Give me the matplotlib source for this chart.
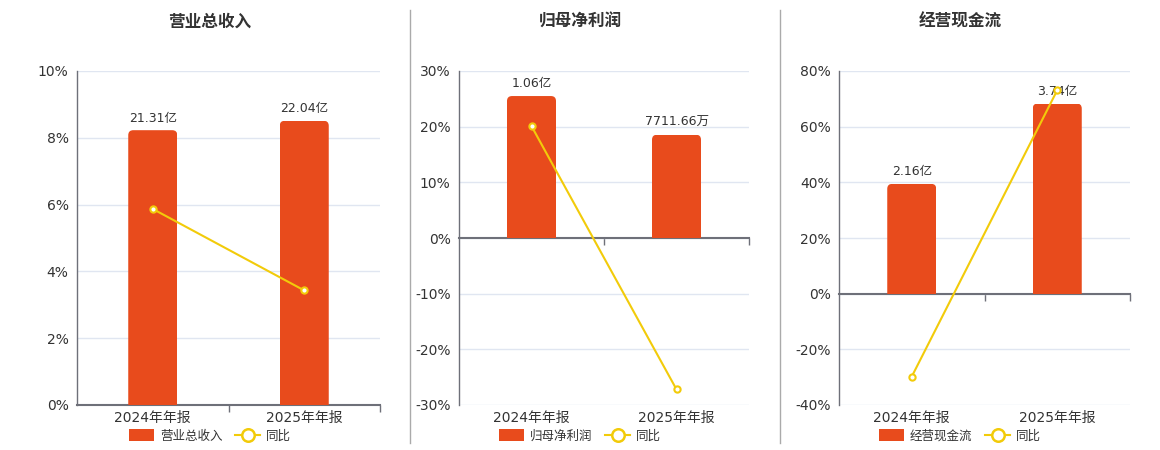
import matplotlib
matplotlib.use("Agg")
import matplotlib.pyplot as plt
from matplotlib.patches import FancyBboxPatch, Rectangle, Patch
from matplotlib.lines import Line2D
from matplotlib.ticker import FuncFormatter, FixedLocator

plt.rcParams['font.family'] = ['DejaVu Sans', 'Noto Sans CJK SC']

# ---- data ----
categories = ['2024年年报', '2025年年报']
titles = ['营业总收入', '归母净利润', '经营现金流']
bar_values = [[21.31, 22.04], [1.06, 0.771166], [2.16, 3.74]]
bar_labels = [['21.31亿', '22.04亿'], ['1.06亿', '7711.66万'], ['2.16亿', '3.74亿']]
yoy_values = [[5.87, 3.43], [20.1, -27.2], [-29.8, 73.1]]
pct_ticks = [[0, 2, 4, 6, 8, 10], [-30, -20, -10, 0, 10, 20, 30], [-40, -20, 0, 20, 40, 60, 80]]
bar_ylims = [(0, 25.9), (-1.247, 1.247), (-2.19, 4.38)]

BAR_C = '#E84B1C'
LINE_C = '#F2CB0A'
AXIS_C = '#6E7079'
GRID_C = '#E0E6F1'
TXT_C = '#333333'

W, H = 1160, 450
fig = plt.figure(figsize=(W / 100, H / 100), dpi=100)

# layout in pixels: (left, right)
panels_px = [(77, 380), (459, 749), (839, 1130)]
top_px, bot_px = 71, 405
title_x_px = [210, 580, 960]

for i in range(3):
    l, r = panels_px[i]
    rect = [l / W, 1 - bot_px / H, (r - l) / W, (bot_px - top_px) / H]
    ax = fig.add_axes(rect)
    axb = ax.twinx()
    axl = ax.twinx()
    x = list(range(len(categories)))
    ticks = pct_ticks[i]

    # percent axis (grid, spines, labels)
    ax.set_xlim(-0.5, 1.5)
    ax.set_ylim(ticks[0], ticks[-1])
    ax.yaxis.set_major_locator(FixedLocator(ticks))
    ax.yaxis.set_major_formatter(FuncFormatter(lambda v, p: f"{v:.0f}%"))
    ax.tick_params(axis='y', length=0, pad=6, labelsize=10, labelcolor=TXT_C)
    ax.grid(axis='y', color=GRID_C, linewidth=1)
    ax.set_axisbelow(True)
    for s in ['top', 'right']:
        ax.spines[s].set_visible(False)
    ax.spines['left'].set_color(AXIS_C)
    ax.spines['left'].set_linewidth(1)
    ax.spines['bottom'].set_position(('data', 0))
    ax.spines['bottom'].set_color(AXIS_C)
    ax.spines['bottom'].set_linewidth(1.5)
    ax.xaxis.set_major_locator(FixedLocator([0.5, 1.5]))
    ax.xaxis.set_major_formatter(FuncFormatter(lambda v, p: ''))
    ax.tick_params(axis='x', length=5, width=1, color=AXIS_C, direction='out')
    sec = ax.secondary_xaxis(0.0)
    sec.set_xticks(x)
    sec.set_xticklabels(categories)
    sec.tick_params(length=0, pad=4, labelsize=10, labelcolor=TXT_C)
    sec.spines['bottom'].set_visible(False)

    # bars
    axb.set_ylim(*bar_ylims[i])
    axb.set_xlim(-0.5, 1.5)
    axb.axis('off')
    bw = 49 / ((r - l) / 2)
    bars = axb.bar(x, bar_values[i], width=bw, color=BAR_C, label=titles[i])
    # rounded top corners
    xpp = 2 / (r - l)
    ypp = (bar_ylims[i][1] - bar_ylims[i][0]) / (bot_px - top_px)
    rad = 5 * xpp
    for b in bars:
        bx, by, bwid, bh = b.get_x(), b.get_y(), b.get_width(), b.get_height()
        fp = FancyBboxPatch((bx, by - bh * 0.2), bwid, bh * 1.2,
                            boxstyle=f"round,pad=0,rounding_size={rad}",
                            mutation_aspect=ypp / xpp,
                            facecolor=BAR_C, edgecolor='none', transform=axb.transData)
        axb.add_patch(fp)
        clip = Rectangle((bx, by), bwid, bh, transform=axb.transData)
        fp.set_clip_path(clip)
        b.set_visible(False)
    axb.bar_label(bars, labels=bar_labels[i], padding=4, fontsize=9, color=TXT_C)

    # yoy line
    axl.set_ylim(ticks[0], ticks[-1])
    axl.set_xlim(-0.5, 1.5)
    axl.axis('off')
    axl.plot(x, yoy_values[i], color=LINE_C, linewidth=1.5, marker='o', markersize=4.5,
             markerfacecolor='white', markeredgecolor=LINE_C, markeredgewidth=1.5,
             label='同比')

    # title
    fig.text(title_x_px[i] / W, 1 - 22 / H, titles[i], ha='center', va='center',
             fontsize=12, fontweight='bold', color=TXT_C)

    # legend
    handles = [Patch(facecolor=BAR_C, edgecolor='none', label=titles[i]),
               Line2D([0], [0], color=LINE_C, linewidth=1.5, marker='o', markersize=9,
                      markerfacecolor='white', markeredgecolor=LINE_C, markeredgewidth=1.8,
                      label='同比')]
    axl.legend(handles=handles, loc='center', ncol=2, frameon=False,
               bbox_to_anchor=(title_x_px[i] / W, 1 - 436 / H), bbox_transform=fig.transFigure,
               fontsize=9, labelcolor=TXT_C, handlelength=2.0, handleheight=1.1,
               handletextpad=0.5, columnspacing=1.0, borderpad=0)

# dividers
for xd in [410, 780]:
    fig.add_artist(Line2D([xd / W, xd / W], [1 - 443 / H, 1 - 10 / H], color='#AAAAAA',
                          linewidth=1, transform=fig.transFigure))

fig.savefig('out.png', dpi=100, facecolor='white')
